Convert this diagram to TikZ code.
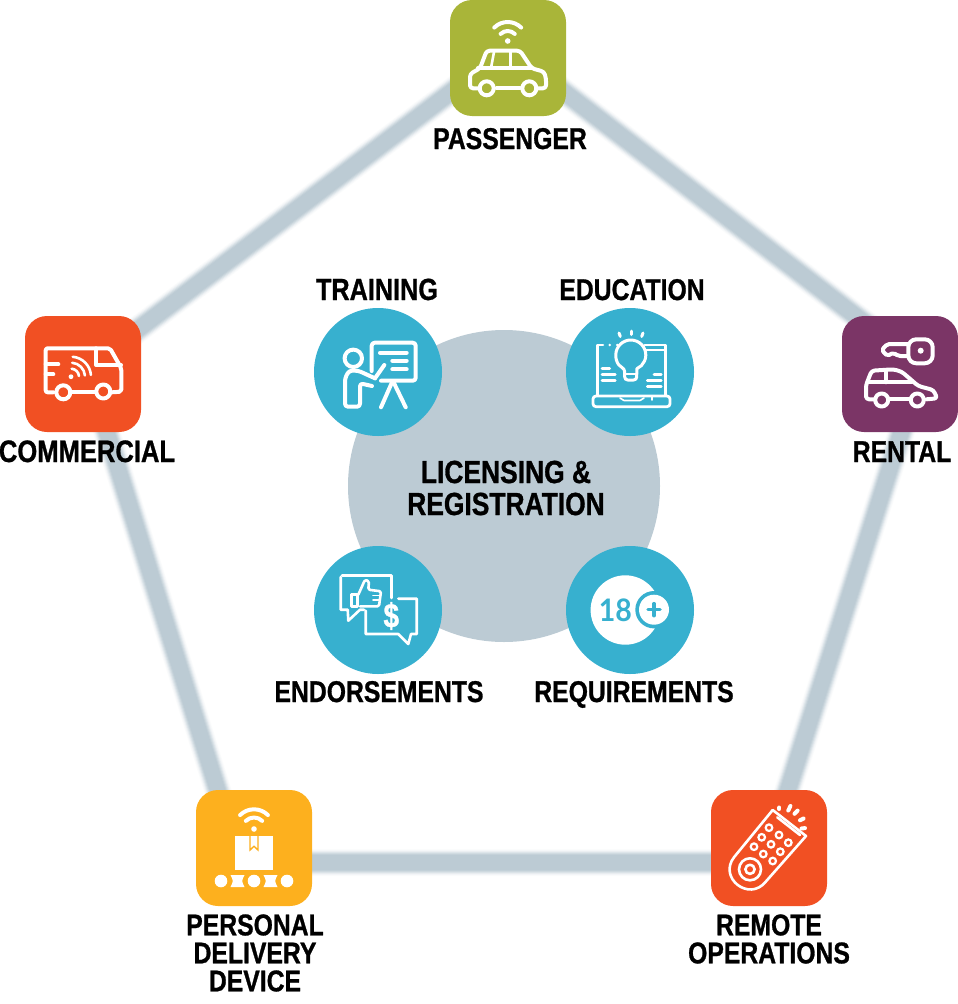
\documentclass[tikz,border=0pt]{standalone}
\usepackage{fontspec}
\newfontfamily\labfont[FakeStretch=0.825,FakeBold=0.9]{Liberation Sans Bold}
\newfontfamily\numfont[FakeStretch=0.92]{Lato Bold}
\definecolor{pent}{HTML}{BCCBD4}
\definecolor{hubc}{HTML}{BCCBD4}
\definecolor{teal}{HTML}{37B0CF}
\definecolor{olive}{HTML}{A9B539}
\definecolor{plum}{HTML}{7B3566}
\definecolor{flame}{HTML}{F15023}
\definecolor{amber}{HTML}{FDB01E}
\tikzset{
  tile/.style={rectangle,minimum size=116pt,rounded corners=22pt,inner sep=0,draw=none},
  disc/.style={circle,minimum size=128pt,inner sep=0,fill=teal,draw=none},
  hub/.style={circle,minimum size=312pt,inner sep=0,fill=hubc,draw=none},
  lab/.style={font=\labfont\fontsize{30}{28}\selectfont,inner sep=0,text=black,align=center},
  ico/.style={draw=white,line width=4pt,line cap=round,line join=round},
  thin ico/.style={draw=white,line width=2.6pt,line cap=round,line join=round}
}
\begin{document}
\begin{tikzpicture}[x=1pt,y=-1pt]
\useasboundingbox (0,0) rectangle (958,1004);
\coordinate (pA) at (508,49);
\coordinate (pB) at (922,367);
\coordinate (pC) at (765,862.5);
\coordinate (pD) at (240,862.5);
\coordinate (pE) at (87,368);
\foreach \w/\c in {27/6,25/15,23/30,21/50,19/70,17/88,15/100}{
  \draw[line width=\w pt,color=pent!\c,line join=round] (pA)--(pB)--(pC)--(pD)--(pE)--cycle;
}
\node[tile,fill=olive] (passenger) at (508,58) {};
\node[tile,fill=plum] (rental) at (900,374) {};
\node[tile,fill=flame] (commercial) at (83,374) {};
\node[tile,fill=amber] (personal) at (254,848) {};
\node[tile,fill=flame] (remote) at (769,848) {};
\node[hub] (hubnode) at (504,486) {};
\node[disc] (training) at (378,372) {};
\node[disc] (education) at (630,372) {};
\node[disc] (endorse) at (378,610) {};
\node[disc] (require) at (630,610) {};
% labels
\node[lab,anchor=base] (l1) at (510,149) {PASSENGER};
\node[lab,anchor=base,font=\labfont\fontsize{30.6}{28}\selectfont] (l2) at (377,300) {TRAINING};
\node[lab,anchor=base] (l3) at (632,300) {EDUCATION};
\node[lab,anchor=base,font=\labfont\fontsize{31}{28}\selectfont] (l4) at (87,462) {COMMERCIAL};
\node[lab,anchor=base] (l5) at (902,462) {RENTAL};
\node[lab,anchor=base] (l6) at (379,702) {ENDORSEMENTS};
\node[lab,anchor=base] (l7) at (634,702) {REQUIREMENTS};
\node[lab,font=\labfont\fontsize{32}{32}\selectfont] (l8) at (506,488) {LICENSING \&\\REGISTRATION};
\node[lab] (l9) at (255,953) {PERSONAL\\DELIVERY\\DEVICE};
\node[lab] (l10) at (769,939) {REMOTE\\OPERATIONS};
% passenger icon
\draw[ico] (507.7,41) ++(-135:19) arc[start angle=-135,end angle=-45,radius=19];
\draw[ico] (507.7,41) ++(-135:10) arc[start angle=-135,end angle=-45,radius=10];
\fill[white] (507.7,41) circle[radius=2.8];
\draw[ico,rounded corners=3pt] (478.3,88.3) -- (470,88.3) -- (470,74) -- (480,68.3) -- (486.7,50.7) -- (520,50.7) -- (531.7,68.3) -- (544,71.7) -- (546,78.3) -- (546,88.3) -- (537,88.3);
\draw[ico] (496.7,88.3) -- (520,88.3);
\draw[ico] (478,68.3) -- (532,68.3);
\draw[thin ico] (491,68) -- (494,52);
\draw[thin ico] (510.7,51) -- (510.7,68);
\draw[ico,fill=olive] (486.7,88.3) circle[radius=7];
\draw[ico,fill=olive] (529.3,88.3) circle[radius=7];
% rental icon
\draw[ico,rounded corners=8pt] (908.3,339.3) rectangle (932.7,363.3);
\fill[white] (920.7,350.7) circle[radius=3];
\draw[ico,rounded corners=2pt] (908.3,344) -- (887.3,344) -- (881.7,350) -- (887.3,356) -- (893.3,352.7) -- (898.3,356) -- (908.3,356);
\draw[ico,rounded corners=3pt] (875,399.3) -- (866,399.3) -- (866,385) -- (871.7,370.7) -- (893.3,369.3) -- (901.7,371.7) -- (918.3,386) -- (933.3,390) -- (937.3,398.3) -- (926.7,399.3);
\draw[ico] (889.3,399.3) -- (910,399.3);
\draw[ico] (868.7,382.3) -- (911.7,382.3);
\draw[ico] (886,371.7) -- (886,382.3);
\draw[ico,fill=plum] (881.7,400) circle[radius=6.5];
\draw[ico,fill=plum] (917.3,400) circle[radius=6.5];
% commercial icon
\draw[ico,rounded corners=2pt] (53.3,392.3) -- (45.7,392.3) -- (45.7,348.3) -- (110,348.3) -- (121.3,368.3) -- (121.3,391.7) -- (111.7,392.3);
\draw[ico] (71.7,392.3) -- (95,392.3);
\draw[ico] (96,348.3) -- (96,365) -- (121,365);
\draw[ico] (45.7,364.3) -- (58.3,364.3);
\draw[ico] (45.7,374.3) -- (53.3,374.3);
\draw[ico,fill=flame] (63.3,392.3) circle[radius=7];
\draw[ico,fill=flame] (103.3,391.5) circle[radius=7];
\fill[white] (71,376.7) circle[radius=2.4];
\foreach \r in {8,14,20}{
  \draw[thin ico] (71,376.7) ++(-85:\r) arc[start angle=-85,end angle=-5,radius=\r];
}
% personal icon
\draw[ico] (254,829) ++(-135:19.7) arc[start angle=-135,end angle=-45,radius=19.7];
\draw[ico] (254,829) ++(-135:11.5) arc[start angle=-135,end angle=-45,radius=11.5];
\fill[white] (254,829) circle[radius=2.8];
\fill[white] (235,836) rectangle (273.3,870);
\draw[draw=amber,line width=1.4pt,fill=white] (250,836) -- (250,850) -- (254,846.3) -- (258,850) -- (258,836);
\fill[white] (221,881) circle[radius=6.3];
\fill[white] (254,881) circle[radius=6.3];
\fill[white] (287,881) circle[radius=6.3];
\fill[white] (230.5,875) -- (244.5,875) .. controls (241.5,881) .. (244.5,887) -- (230.5,887) .. controls (233.5,881) .. (230.5,875) -- cycle;
\fill[white] (263.5,875) -- (277.5,875) .. controls (274.5,881) .. (277.5,887) -- (263.5,887) .. controls (266.5,881) .. (263.5,875) -- cycle;
% remote icon
\draw[thin ico] (772.7,810) -- (806,836) -- (765.8,881.6) .. controls (749.3,902.4) and (717.7,877.8) .. (734.2,857) -- cycle;
\draw[thin ico] (777.3,817.3) -- (800,835);
\foreach \p in {(769,827.7),(779,835),(788.3,842.7),(761.7,837.3),(771,844.3),(780.3,851.7),(754,846.7),(763.3,854),(772.7,861)}{
  \draw[draw=white,line width=2.2pt] \p circle[radius=3.3];
}
\draw[thin ico] (750,869.3) circle[radius=11];
\draw[thin ico] (750,869.3) circle[radius=4.6];
\draw[ico] (779.3,809) -- (779.3,807.5);
\draw[ico] (788.3,810.5) -- (790.4,806);
\draw[ico] (794.5,813.8) -- (797.6,810.6);
\draw[ico] (800,820.3) -- (803.6,818.5);
\draw[ico] (801.5,828.5) -- (805,828.1);
% training icon
\draw[ico] (353.3,358.3) circle[radius=8.7];
\draw[ico,rounded corners=3pt] (375,378.3) -- (358.3,370.7) -- (349,370.7) -- (345,378.3) -- (345,406.7) -- (360,406.7) -- (360,383.3) -- (372,386);
\draw[ico] (375,378.3) -- (384.3,365);
\draw[ico,rounded corners=3pt] (371.7,371) -- (371.7,342.7) -- (415.7,342.7) -- (415.7,380.7) -- (381,380.7);
\draw[ico] (380,352.7) -- (406.7,352.7);
\draw[ico] (392.3,360.7) -- (406.7,360.7);
\draw[ico] (392.3,369.3) -- (406.7,369.3);
\draw[ico] (392.3,381.7) -- (381,407.3);
\draw[ico] (393.3,381.7) -- (405.7,407.3);
% education icon
\draw[thin ico] (603,345) -- (597.3,345) -- (597.3,395);
\draw[thin ico] (644.7,345) -- (665.3,345) -- (665.3,395);
\fill[white] (609.7,345) circle[radius=1.4];
\fill[white] (617.3,345) circle[radius=1.4];
\draw[thin ico,line width=1.6pt] (644.7,350) -- (665,350);
\draw[thin ico,line width=3pt,fill=teal] (624.7,368.7) arc[start angle=114,end angle=426,radius=15] -- (636.7,376) [rounded corners=3pt] -- (636.7,380) -- (624.7,380) -- cycle;
\draw[thin ico,line width=2.2pt] (624.7,374) -- (636.7,374);
\draw[ico,line width=3pt] (619,333) -- (620.3,336.5);
\draw[ico,line width=3pt] (631.3,331) -- (631.3,334.5);
\draw[ico,line width=3pt] (643,333) -- (641.7,336.5);
\draw[thin ico] (602,368.3) -- (609.7,368.3);
\draw[thin ico] (602,374.3) -- (615.3,374.3);
\draw[thin ico] (602,380.3) -- (615.3,380.3);
\draw[thin ico] (654,374.3) -- (661.3,374.3);
\draw[thin ico] (647.3,380.3) -- (661.3,380.3);
\draw[thin ico] (647.3,386.7) -- (661.3,386.7);
\draw[thin ico,line width=2.8pt,rounded corners=3pt] (593,396) rectangle (670,406.7);
\draw[thin ico,line width=1.6pt] (620,398) -- (624,400.5) -- (640,400.5) -- (644,398);
\draw[thin ico,line width=1.6pt] (652,396) -- (652,400);
% endorsements icon
\draw[thin ico] (391.7,598) -- (391.7,575.3) -- (342,575.3);
\draw[thin ico] (340.7,577) -- (340.7,609.7) -- (347.7,609.7) -- (348.3,620.7) -- (360,609.7) -- (364,609.7);
\draw[thin ico] (398.3,598.7) -- (416.7,598.7) -- (416.7,634) -- (411,634) -- (408.3,644) -- (398.3,634) -- (365.7,634) -- (365.7,610.7);
\draw[thin ico] (351.7,594.5) -- (357.7,594.5) -- (357.7,606.3) -- (351.7,606.3) -- cycle;
\draw[thin ico,rounded corners=1.5pt] (358.3,594.7) -- (365,579.7) -- (369,581.3) -- (368.3,589.7) -- (381,591.3) -- (379,606.3) -- (360,606.3);
\draw[thin ico,line width=1.6pt] (373,595.5) -- (380,595.5);
\draw[thin ico,line width=1.6pt] (373,600) -- (380,600);
\fill[teal] (391,616) circle[radius=13];
\node[font=\labfont\fontsize{34}{34}\selectfont,text=white,inner sep=0] (dollar) at (391.3,616) {\$};
% requirements icon
\fill[white] (625.3,610) circle[radius=34.7];
\fill[teal] (654,609.7) circle[radius=18.7];
\fill[white] (654,609.7) circle[radius=15];
\draw[draw=teal,line width=3.5pt,line cap=round] (648,609.7) -- (660,609.7);
\draw[draw=teal,line width=3.5pt,line cap=round] (654,603.7) -- (654,615.7);
\node[font=\numfont\fontsize{31}{31}\selectfont,text=teal,inner sep=0] (eighteen) at (615.3,610) {18};
\end{tikzpicture}
\end{document}
